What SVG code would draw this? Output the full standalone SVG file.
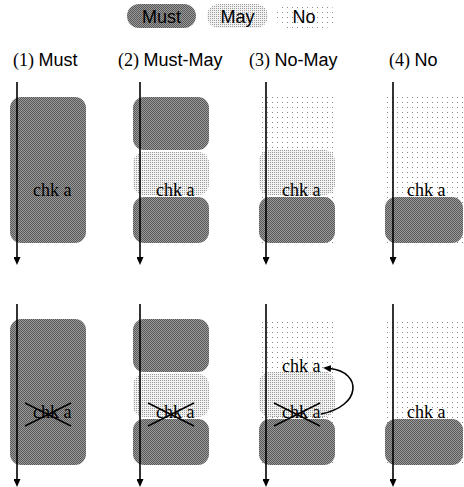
<svg xmlns="http://www.w3.org/2000/svg" width="464" height="487" viewBox="0 0 464 487">
  <style>
    .must { fill: url(#patMust); }
    .may { fill: url(#patMay); }
    .no { fill: url(#patNo); }
    .sans { font-family: "Liberation Sans", Arial, sans-serif; font-size: 18px; fill: #000; }
    .serif { font-family: "Liberation Serif", "Times New Roman", serif; font-size: 18px; fill: #000; }
    .flow { stroke: #000; stroke-width: 1.6; fill: none; marker-end: url(#head); }
    .cross { stroke: #000; stroke-width: 1.5; }
  </style>
  <defs>
    <!-- halftone fills for the three states -->
    <pattern id="patMust" width="2" height="2" patternUnits="userSpaceOnUse">
      <rect width="2" height="2" fill="#9a9a9a"/>
      <rect width="1" height="1" fill="#585858"/>
      <rect x="1" y="1" width="1" height="1" fill="#585858"/>
    </pattern>
    <pattern id="patMay" width="2" height="2" patternUnits="userSpaceOnUse">
      <rect width="2" height="2" fill="#f2f2f2"/>
      <rect width="1" height="1" fill="#9a9a9a"/>
    </pattern>
    <pattern id="patNo" width="5" height="5" patternUnits="userSpaceOnUse">
      <rect width="5" height="5" fill="#ffffff"/>
      <rect x="2" y="2" width="1" height="1" fill="#8a8a8a"/>
    </pattern>
    <marker id="head" markerUnits="userSpaceOnUse" markerWidth="8" markerHeight="7" refX="1" refY="3.5" orient="auto" viewBox="0 0 8 7">
      <path d="M0,0 L8,3.5 L0,7 z" fill="#000"/>
    </marker>
  </defs>

  <!-- legend -->
  <g id="legend">
    <rect class="must" x="127" y="4" width="69" height="24" rx="12"/>
    <text class="sans" x="161.5" y="23" text-anchor="middle">Must</text>
    <rect class="may" x="207" y="4" width="61" height="24" rx="12"/>
    <text class="sans" x="237.5" y="23" text-anchor="middle">May</text>
    <rect class="no" x="276" y="4" width="60" height="24" rx="12"/>
    <text class="sans" x="304" y="23" text-anchor="middle">No</text>
  </g>

  <!-- column headings -->
  <g id="titles">
    <text x="13" y="66"><tspan class="serif">(1) </tspan><tspan class="sans">Must</tspan></text>
    <text x="118" y="66"><tspan class="serif">(2) </tspan><tspan class="sans">Must-May</tspan></text>
    <text x="249" y="66"><tspan class="serif">(3) </tspan><tspan class="sans">No-May</tspan></text>
    <text x="389" y="66"><tspan class="serif">(4) </tspan><tspan class="sans">No</tspan></text>
  </g>

  <!-- top row -->
  <g id="must-top">
    <rect class="must" x="10" y="97" width="76" height="146" rx="11"/>
    <text class="serif" x="33" y="196">chk a</text>
  </g>
  <g id="mustmay-top">
    <rect class="must" x="133" y="97" width="76" height="53" rx="11"/>
    <rect class="may" x="133" y="152" width="76" height="43" rx="11"/>
    <rect class="must" x="133" y="197" width="76" height="46" rx="11"/>
    <text class="serif" x="156" y="196">chk a</text>
  </g>
  <g id="nomay-top">
    <rect class="no" x="259" y="97" width="76" height="146"/>
    <rect class="may" x="259" y="150" width="76" height="45" rx="11"/>
    <rect class="must" x="259" y="197" width="76" height="46" rx="11"/>
    <text class="serif" x="282" y="196">chk a</text>
  </g>
  <g id="no-top">
    <rect class="no" x="385" y="97" width="78" height="146"/>
    <rect class="must" x="385" y="197" width="78" height="46" rx="11"/>
    <text class="serif" x="407" y="196">chk a</text>
  </g>

  <!-- bottom row -->
  <g id="must-bottom">
    <rect class="must" x="10" y="319" width="76" height="146" rx="11"/>
    <text class="serif" x="33" y="418">chk a</text>
    <line class="cross" x1="25" y1="403" x2="71" y2="426"/>
    <line class="cross" x1="25" y1="426" x2="71" y2="403"/>
  </g>
  <g id="mustmay-bottom">
    <rect class="must" x="133" y="319" width="76" height="53" rx="11"/>
    <rect class="may" x="133" y="374" width="76" height="43" rx="11"/>
    <rect class="must" x="133" y="419" width="76" height="46" rx="11"/>
    <text class="serif" x="156" y="418">chk a</text>
    <line class="cross" x1="148" y1="403" x2="194" y2="426"/>
    <line class="cross" x1="148" y1="426" x2="194" y2="403"/>
  </g>
  <g id="nomay-bottom">
    <rect class="no" x="259" y="319" width="76" height="146"/>
    <rect class="may" x="259" y="372" width="76" height="45" rx="11"/>
    <rect class="must" x="259" y="419" width="76" height="46" rx="11"/>
    <text class="serif" x="282" y="372">chk a</text>
    <text class="serif" x="282" y="418">chk a</text>
    <line class="cross" x1="274" y1="403" x2="320" y2="426"/>
    <line class="cross" x1="274" y1="426" x2="320" y2="403"/>
  </g>
  <g id="no-bottom">
    <rect class="no" x="385" y="319" width="78" height="146"/>
    <rect class="must" x="385" y="419" width="78" height="46" rx="11"/>
    <text class="serif" x="407" y="418">chk a</text>
  </g>

  <!-- control-flow arrows and the hoisting arrow -->
  <g id="connectors">
    <line class="flow" x1="17" y1="82" x2="17" y2="258"/>
    <line class="flow" x1="140" y1="82" x2="140" y2="258"/>
    <line class="flow" x1="266" y1="82" x2="266" y2="258"/>
    <line class="flow" x1="393" y1="82" x2="393" y2="258"/>
    <line class="flow" x1="17" y1="304" x2="17" y2="480"/>
    <line class="flow" x1="140" y1="304" x2="140" y2="480"/>
    <line class="flow" x1="266" y1="304" x2="266" y2="480"/>
    <line class="flow" x1="393" y1="304" x2="393" y2="480"/>
    <path class="flow" d="M321,414 C362,406 362,372 330,368.5"/>
  </g>
</svg>
